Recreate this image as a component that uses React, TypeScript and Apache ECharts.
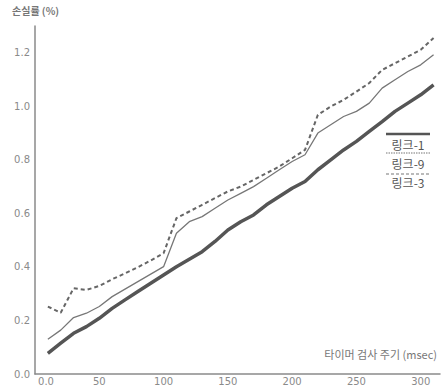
import React, { useEffect, useRef } from "react";
import * as echarts from "echarts";

const xValues = [10, 20, 30, 40, 50, 60, 70, 80, 90, 100, 110, 120, 130, 140, 150, 160, 170, 180, 190, 200, 210, 220, 230, 240, 250, 260, 270, 280, 290, 300, 310];
const link1 = [0.077, 0.115, 0.152, 0.177, 0.208, 0.245, 0.277, 0.308, 0.339, 0.37, 0.401, 0.429, 0.457, 0.495, 0.538, 0.569, 0.594, 0.632, 0.663, 0.694, 0.719, 0.763, 0.8, 0.837, 0.869, 0.906, 0.943, 0.981, 1.012, 1.043, 1.08];
const link9 = [0.13, 0.164, 0.211, 0.227, 0.252, 0.289, 0.317, 0.345, 0.373, 0.401, 0.526, 0.569, 0.588, 0.619, 0.65, 0.675, 0.7, 0.731, 0.763, 0.794, 0.819, 0.9, 0.931, 0.962, 0.981, 1.012, 1.068, 1.099, 1.13, 1.155, 1.193];
const link3 = [0.252, 0.229, 0.32, 0.314, 0.329, 0.354, 0.376, 0.399, 0.424, 0.451, 0.582, 0.607, 0.632, 0.657, 0.682, 0.7, 0.725, 0.75, 0.775, 0.806, 0.837, 0.968, 0.999, 1.024, 1.055, 1.087, 1.136, 1.161, 1.186, 1.211, 1.255];
const seriesNames = ["링크-1", "링크-9", "링크-3"];
const yAxisTitle = "손실률 (%)";
const xAxisTitle = "타이머 검사 주기 (msec)";

const FONT = "DejaVu Sans";
const KFONT = "Noto Sans CJK KR";

export default function App() {
  const ref = useRef<HTMLDivElement>(null);
  useEffect(() => {
    if (!ref.current) return;
    const chart = echarts.init(ref.current, undefined, { renderer: "svg" });
    const pair = (arr: number[]) => xValues.map((x, i) => [x, arr[i]]);
    chart.setOption({
      animation: false,
      backgroundColor: "#fff",
      grid: { left: 35, right: 4, top: 26, bottom: 14 },
      xAxis: {
        type: "value",
        min: 0,
        max: 315,
        interval: 50,
        axisLine: { show: true, lineStyle: { color: "#8a8a8a", width: 1.5 } },
        axisTick: { show: false },
        splitLine: { show: false },
        axisLabel: {
          showMaxLabel: false,
          margin: 2,
          color: "#8a8a8a",
          fontFamily: FONT,
          fontSize: 10,
          formatter: (v: number) => (v === 0 ? "{z|0.0}" : String(v)),
          rich: { z: { padding: [0, 0, 0, 22], color: "#8a8a8a", fontFamily: FONT, fontSize: 10 } },
        },
      },
      yAxis: {
        type: "value",
        min: 0,
        max: 1.3,
        interval: 0.2,
        axisLine: { show: true, lineStyle: { color: "#8a8a8a", width: 1.5 } },
        axisTick: { show: false },
        splitLine: { show: false },
        axisLabel: {
          showMaxLabel: false,
          margin: 5,
          color: "#8a8a8a",
          fontFamily: FONT,
          fontSize: 10,
          formatter: (v: number) => v.toFixed(1),
        },
      },
      series: [
        {
          name: seriesNames[0],
          type: "line",
          data: pair(link1),
          symbol: "none",
          lineStyle: { color: "#555", width: 3.5 },
        },
        {
          name: seriesNames[1],
          type: "line",
          data: pair(link9),
          symbol: "none",
          lineStyle: { color: "#777", width: 1.3 },
        },
        {
          name: seriesNames[2],
          type: "line",
          data: pair(link3),
          symbol: "none",
          lineStyle: { color: "#666", width: 2, type: [4, 3] },
        },
      ],
      graphic: [
        { type: "text", left: 12, top: 5, style: { text: yAxisTitle, fill: "#777", font: `bold 10px "${KFONT}"` } },
        { type: "text", right: 7, top: 348, style: { text: xAxisTitle, fill: "#777", font: `11px "${KFONT}"` } },
        { type: "line", shape: { x1: 386, y1: 134, x2: 430, y2: 134 }, style: { stroke: "#555", lineWidth: 2.5 } },
        { type: "text", x: 408, y: 144, style: { text: seriesNames[0], fill: "#555", font: `12px "${KFONT}"`, align: "center", verticalAlign: "middle" } },
        { type: "line", shape: { x1: 386, y1: 153, x2: 430, y2: 153 }, style: { stroke: "#777", lineWidth: 1.2, lineDash: [1.5, 1] } },
        { type: "text", x: 408, y: 163, style: { text: seriesNames[1], fill: "#555", font: `12px "${KFONT}"`, align: "center", verticalAlign: "middle" } },
        { type: "line", shape: { x1: 386, y1: 174, x2: 430, y2: 174 }, style: { stroke: "#777", lineWidth: 1.2, lineDash: [3, 2] } },
        { type: "text", x: 408, y: 182, style: { text: seriesNames[2], fill: "#555", font: `12px "${KFONT}"`, align: "center", verticalAlign: "middle" } },
      ],
    });
    return () => chart.dispose();
  }, []);
  return <div ref={ref} style={{ width: 444, height: 388, position: "fixed", left: 0, top: 0 }} />;
}
